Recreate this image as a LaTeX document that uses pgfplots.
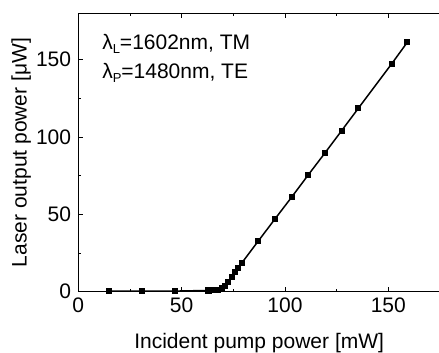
\documentclass[border=0pt]{standalone}
\usepackage{pgfplots}
\pgfplotsset{compat=1.18}
\usepackage{fontspec}
\setmainfont{Liberation Sans}
\begin{document}
\fontsize{21}{25}\selectfont
\begin{tikzpicture}
\begin{axis}[
  name=ax,
  scale only axis,
  width=361.7pt, height=278.4pt,
  xmin=0, xmax=175, ymin=0, ymax=180,
  axis x line*=box, axis y line*=left,
  xtick={0,50,100,150}, ytick={0,50,100,150},
  minor x tick num=1, minor y tick num=1,
  xtick pos=both, ytick pos=left,
  tick align=inside,
  major tick length=4.5pt, minor tick length=2.5pt,
  tick style={black, line width=0.6pt},
  axis line style={line width=0.8pt},
  /pgf/number format/assume math mode=true,
  ticklabel style={font=\fontsize{21}{25}\selectfont},
  xticklabel style={yshift=1pt},
  label style={font=\fontsize{21}{25}\selectfont},
  xlabel={Incident pump power [mW]},
  ylabel={Laser output power [μW]},
  xlabel style={yshift=-6pt},
  ylabel style={yshift=-9pt},
  clip=false,
]
\addplot[black, line width=1.5pt, mark=square*, mark size=2.3pt] coordinates {
(15,0.3) (31,0.4) (47,0.4) (63,0.8) (64.5,0.9) (66,1.0) (67.7,1.3)
(69.4,2.2) (71,3.8) (72.6,6.5) (74.2,9.5) (75.8,12.5) (77.4,15.5) (79,18.4)
(87.1,32.8) (95.2,47.1) (103.2,61.1) (111.3,75.6) (119.4,89.8) (127.4,104.1)
(135.5,118.6) (151.6,147.3) (159.2,161.3)
};
\node[anchor=base west, inner sep=0pt] at (axis cs:11.5,156.5) {λ\raisebox{-0.35ex}{\fontsize{13}{13}\selectfont L}=1602nm, TM};
\node[anchor=base west, inner sep=0pt] at (axis cs:11.5,138) {λ\raisebox{-0.35ex}{\fontsize{13}{13}\selectfont P}=1480nm, TE};
\end{axis}
\pgfresetboundingbox
\path ([xshift=-78.3pt,yshift=-61.3pt]ax.south west) rectangle ([xshift=-1pt,yshift=13.3pt]ax.north east);
\end{tikzpicture}
\end{document}
